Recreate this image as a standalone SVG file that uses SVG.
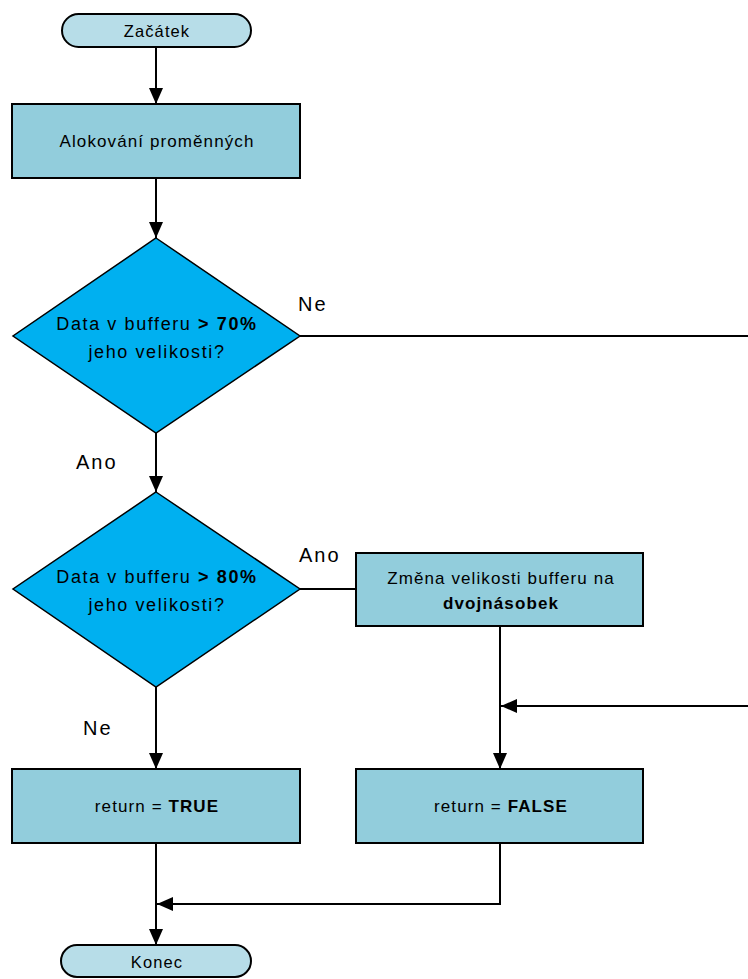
<svg xmlns="http://www.w3.org/2000/svg" width="748" height="979" viewBox="0 0 748 979">
  <style>
    .term { fill: #B7DDE8; stroke: #000; stroke-width: 2; }
    .proc { fill: #92CDDC; stroke: #000; stroke-width: 2; }
    .dec { fill: #00B0F0; stroke: #000; stroke-width: 1.5; }
    .edge { fill: none; stroke: #000; stroke-width: 2; }
    text { font-family: "Liberation Sans", Arial, sans-serif; fill: #000; text-anchor: middle; }
    .t16 { font-size: 16.5px; letter-spacing: 1.1px; }
    .t17 { font-size: 17px; letter-spacing: 1.1px; }
    .t18 { font-size: 18px; letter-spacing: 1.6px; }
    .lbl { font-size: 20px; letter-spacing: 2px; text-anchor: start; }
    .b { font-weight: bold; }
  </style>
  <defs>
    <marker id="arrow" viewBox="0 0 16 16" refX="16" refY="8" markerWidth="16" markerHeight="16" markerUnits="userSpaceOnUse" orient="auto">
      <path d="M0,1 L16,8 L0,15 Z" fill="#000"/>
    </marker>
  </defs>

  <!-- connectors -->
  <g id="connectors">
    <path class="edge" d="M156,47 V104" marker-end="url(#arrow)"/>
    <path class="edge" d="M156,178 V238" marker-end="url(#arrow)"/>
    <path class="edge" d="M300,336 H748"/>
    <path class="edge" d="M156,433 V492" marker-end="url(#arrow)"/>
    <path class="edge" d="M300,589 H356"/>
    <path class="edge" d="M156,687 V769" marker-end="url(#arrow)"/>
    <path class="edge" d="M500,626 V769" marker-end="url(#arrow)"/>
    <path class="edge" d="M748,706 H501" marker-end="url(#arrow)"/>
    <path class="edge" d="M156,843 V945" marker-end="url(#arrow)"/>
    <path class="edge" d="M500,843 V904 H157" marker-end="url(#arrow)"/>
    <text class="lbl" x="298" y="311">Ne</text>
    <text class="lbl" x="76" y="469">Ano</text>
    <text class="lbl" x="299" y="562">Ano</text>
    <text class="lbl" x="83" y="735">Ne</text>
  </g>

  <g id="start">
    <rect class="term" x="62" y="14" width="189" height="33" rx="16.5"/>
    <text class="t16" x="157" y="37">Začátek</text>
  </g>

  <g id="alloc">
    <rect class="proc" x="12" y="104" width="288" height="74"/>
    <text class="t17" x="157" y="147">Alokování proměnných</text>
  </g>

  <g id="check70">
    <polygon class="dec" points="156,238 300,336 156,433 13,336"/>
    <text class="t18" x="157" y="330">Data v bufferu <tspan class="b">&gt; 70%</tspan></text>
    <text class="t18" x="157" y="358">jeho velikosti?</text>
  </g>

  <g id="check80">
    <polygon class="dec" points="156,492 300,589 156,687 13,589"/>
    <text class="t18" x="157" y="583">Data v bufferu <tspan class="b">&gt; 80%</tspan></text>
    <text class="t18" x="157" y="611">jeho velikosti?</text>
  </g>

  <g id="resize">
    <rect class="proc" x="356" y="553" width="287" height="73"/>
    <text class="t17" x="501" y="584">Změna velikosti bufferu na</text>
    <text class="t17 b" x="501" y="609">dvojnásobek</text>
  </g>

  <g id="retTrue">
    <rect class="proc" x="12" y="769" width="288" height="74"/>
    <text class="t17" x="157" y="812">return = <tspan class="b">TRUE</tspan></text>
  </g>

  <g id="retFalse">
    <rect class="proc" x="356" y="769" width="287" height="74"/>
    <text class="t17" x="501" y="812">return = <tspan class="b">FALSE</tspan></text>
  </g>

  <g id="end">
    <rect class="term" x="61" y="945" width="190" height="32" rx="16"/>
    <text class="t16" x="157" y="968">Konec</text>
  </g>
</svg>
